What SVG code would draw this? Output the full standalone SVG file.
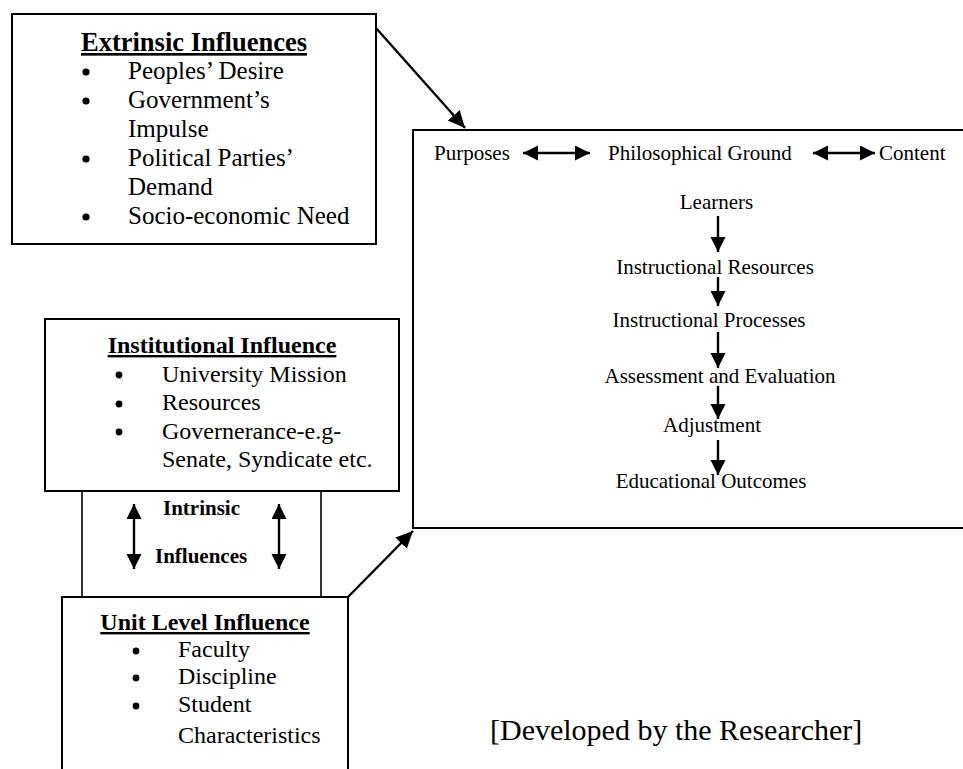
<svg xmlns="http://www.w3.org/2000/svg" width="963" height="769" viewBox="0 0 963 769">
<style>
  .box { fill: none; stroke: #000; stroke-width: 2; }
  .thin { fill: none; stroke: #000; stroke-width: 1.6; }
  .t { font-family: "Liberation Serif", "Times New Roman", serif; fill: #000; }
  .title { font-weight: bold; text-decoration: underline; }
  .b { font-weight: bold; }
  .conn { stroke: #000; stroke-width: 2.4; fill: none; }
  .bul { fill: #000; }
</style>
<defs>
  <marker id="ah" markerUnits="userSpaceOnUse" markerWidth="16" markerHeight="16" refX="15" refY="7.5" orient="auto-start-reverse" viewBox="0 0 16 16">
    <path d="M0,0 L15,7.5 L0,15 z" fill="#000"/>
  </marker>
  <marker id="ah2" markerUnits="userSpaceOnUse" markerWidth="18" markerHeight="18" refX="17" refY="8" orient="auto-start-reverse" viewBox="0 0 18 18">
    <path d="M0,0 L17,8 L0,16 z" fill="#000"/>
  </marker>
</defs>
<rect width="963" height="769" fill="#fff"/>

<g id="extrinsic">
  <rect class="box" x="12" y="14" width="364" height="230"/>
  <text class="t title" x="194" y="51" font-size="26.5" text-anchor="middle">Extrinsic Influences</text>
  <g class="bul">
    <circle cx="86" cy="72" r="3.6"/>
    <circle cx="86" cy="101" r="3.6"/>
    <circle cx="86" cy="159" r="3.6"/>
    <circle cx="86" cy="217" r="3.6"/>
  </g>
  <g class="t" font-size="25">
    <text x="128" y="79">Peoples’ Desire</text>
    <text x="128" y="108">Government’s</text>
    <text x="128" y="137">Impulse</text>
    <text x="128" y="166">Political Parties’</text>
    <text x="128" y="195">Demand</text>
    <text x="128" y="224">Socio-economic Need</text>
  </g>
</g>

<g id="institutional">
  <rect class="box" x="45" y="319" width="354" height="172"/>
  <text class="t title" x="222" y="353" font-size="24" text-anchor="middle">Institutional Influence</text>
  <g class="bul">
    <circle cx="119" cy="375" r="3.4"/>
    <circle cx="119" cy="404" r="3.4"/>
    <circle cx="119" cy="432" r="3.4"/>
  </g>
  <g class="t" font-size="24">
    <text x="162" y="382">University Mission</text>
    <text x="162" y="410">Resources</text>
    <text x="162" y="439">Governerance-e.g-</text>
    <text x="162" y="467">Senate, Syndicate etc.</text>
  </g>
</g>

<g id="intrinsic">
  <path class="thin" d="M82,491 V597 M321,491 V597"/>
  <text class="t b" x="163" y="515" font-size="21">Intrinsic</text>
  <text class="t b" x="155" y="563" font-size="21">Influences</text>
</g>

<g id="unit">
  <path class="box" d="M62,769 V597 H348 V769"/>
  <text class="t title" x="205" y="630" font-size="24" text-anchor="middle">Unit Level Influence</text>
  <g class="bul">
    <circle cx="136" cy="651" r="3.4"/>
    <circle cx="136" cy="678" r="3.4"/>
    <circle cx="136" cy="706" r="3.4"/>
  </g>
  <g class="t" font-size="24">
    <text x="178" y="657">Faculty</text>
    <text x="178" y="684">Discipline</text>
    <text x="178" y="712">Student</text>
    <text x="178" y="743">Characteristics</text>
  </g>
</g>

<g id="curriculum">
  <path class="box" d="M970,130 H413 V528 H970"/>
  <g class="t" font-size="21">
    <text x="434" y="160">Purposes</text>
    <text x="608" y="160">Philosophical Ground</text>
    <text x="879" y="160">Content</text>
  </g>
  <g class="t" font-size="21" text-anchor="middle">
    <text x="716.5" y="209">Learners</text>
    <text x="715" y="274">Instructional Resources</text>
    <text x="709" y="327">Instructional Processes</text>
    <text x="720" y="383">Assessment and Evaluation</text>
    <text x="712" y="432">Adjustment</text>
    <text x="711" y="488">Educational Outcomes</text>
  </g>
</g>

<g id="note">
  <text class="t" x="490" y="740" font-size="30">[Developed by the Researcher]</text>
</g>

<g id="connectors">
  <line class="conn" x1="376" y1="28" x2="465" y2="128" marker-end="url(#ah2)"/>
  <line class="conn" x1="348" y1="597" x2="413" y2="531" marker-end="url(#ah2)"/>
  <line class="conn" x1="523" y1="153" x2="590" y2="153" marker-start="url(#ah)" marker-end="url(#ah)"/>
  <line class="conn" x1="813" y1="153" x2="875" y2="153" marker-start="url(#ah)" marker-end="url(#ah)"/>
  <line class="conn" x1="718" y1="216" x2="718" y2="252" marker-end="url(#ah)"/>
  <line class="conn" x1="718" y1="277" x2="718" y2="306" marker-end="url(#ah)"/>
  <line class="conn" x1="718" y1="332" x2="718" y2="368" marker-end="url(#ah)"/>
  <line class="conn" x1="718" y1="386" x2="718" y2="419" marker-end="url(#ah)"/>
  <line class="conn" x1="718" y1="440" x2="718" y2="475" marker-end="url(#ah)"/>
  <line class="conn" x1="134" y1="504" x2="134" y2="569" marker-start="url(#ah)" marker-end="url(#ah)"/>
  <line class="conn" x1="279" y1="504" x2="279" y2="569" marker-start="url(#ah)" marker-end="url(#ah)"/>
</g>
</svg>
